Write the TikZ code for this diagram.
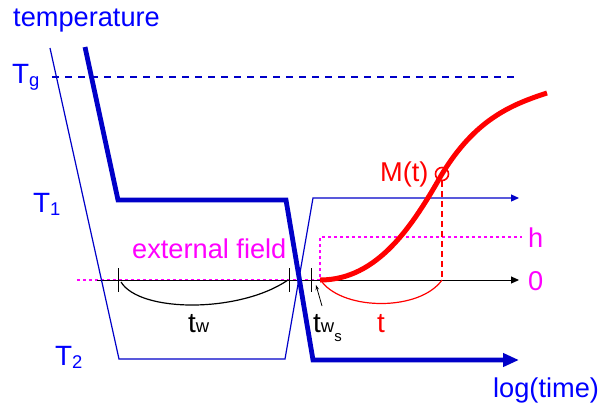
\documentclass[tikz,border=0pt]{standalone}
\usepackage{fontspec}
\setmainfont{Liberation Sans}
\usetikzlibrary{arrows.meta}
\definecolor{lineblue}{RGB}{0,0,200}
\definecolor{textblue}{RGB}{0,0,255}
\definecolor{mag}{RGB}{255,0,255}
\definecolor{myred}{RGB}{255,0,0}
\begin{document}
\begin{tikzpicture}[x=1bp,y=-1bp,
  lbl/.style={inner sep=0pt, anchor=base west, font=\fontsize{27.3}{27.3}\selectfont},
  thinblue/.style={lineblue, line width=1.2bp},
  thickblue/.style={lineblue, line width=4.8bp},
  tick/.style={black, line width=1bp},
  smallarrow/.style={-{Triangle[length=8bp,width=7bp]}},
  bigarrow/.style={-{Triangle[length=16bp,width=13bp]}}]
\useasboundingbox (0,0) rectangle (610,403);
% coordinates
\coordinate (a0) at (50,48);
\coordinate (a1) at (119,359);
\coordinate (a2) at (285,359);
\coordinate (a3) at (313,198);
\coordinate (a4) at (519,198);
\coordinate (b0) at (85,47);
\coordinate (b1) at (118,200);
\coordinate (b2) at (286,200);
\coordinate (b3) at (313,360);
\coordinate (b4) at (519,360);
\coordinate (ax0) at (97,280);
\coordinate (ax1) at (519,280);
\coordinate (m0) at (77,280);
\coordinate (m1) at (320,280);
\coordinate (m2) at (320,237);
\coordinate (m3) at (522,237);
\coordinate (g0) at (52,77);
\coordinate (g1) at (520,77);
\coordinate (mc) at (442,174);
\coordinate (mt) at (442,280);
\coordinate (r0) at (320,280);
\coordinate (r1) at (547,93);
% Tg dashed
\draw[thinblue, dash pattern=on 7bp off 6bp] (g0) -- (g1);
% magenta field
\draw[mag, line width=1.2bp, dash pattern=on 3bp off 3bp] (m0) -- (m1) -- (m2) -- (m3);
% time axis
\draw[black, line width=1bp, smallarrow] (ax0) -- (ax1);
\draw[tick] (118,268) -- (118,292);
\draw[tick] (289,268) -- (289,292);
\draw[tick] (311,268) -- (311,292);
% tw arc
\draw[black, line width=1.2bp] (121,282) .. controls (140,313) and (240,313) .. (288,280);
% temperature protocols
\draw[thinblue, smallarrow] (a0) -- (a1) -- (a2) -- (a3) -- (a4);
\draw[thickblue, bigarrow] (b0) -- (b1) -- (b2) -- (b3) -- (b4);
% red t arc and dashed
\draw[myred, line width=1.2bp] (322,282) .. controls (345,311) and (420,311) .. (mt);
\draw[myred, line width=1.2bp, dash pattern=on 6bp off 4bp] (442,181) -- (mt);
% M(t) curve
\draw[myred, line width=5bp] (r0) .. controls (378,280) and (413,225) .. (mc) .. controls (475,120) and (510,105) .. (r1);
\draw[myred, line width=1.6bp] (mc) circle[radius=6.5bp];
% small arrow to tws
\draw[black, line width=0.8bp, -{Stealth[length=5bp,width=3.5bp]}] (322,306) -- (316,285);
% labels
\node[lbl, textblue] (temp) at (13,26) {temperature};
\node[lbl, textblue, font=\fontsize{28}{28}\selectfont] (tg) at (12,83) {T\raisebox{-3.5bp}{\fontsize{18.5}{18.5}\selectfont g}};
\node[lbl, textblue, font=\fontsize{28}{28}\selectfont] (t1) at (33,212) {T\raisebox{-3.5bp}{\fontsize{18.5}{18.5}\selectfont 1}};
\node[lbl, textblue, font=\fontsize{28}{28}\selectfont] (t2) at (55,365) {T\raisebox{-3.5bp}{\fontsize{18.5}{18.5}\selectfont 2}};
\node[lbl, mag] (ef) at (132,258) {external field};
\node[lbl, font=\fontsize{28}{28}\selectfont] (tw) at (188,332) {t{\fontsize{18.5}{18.5}\selectfont w}};
\node[lbl, font=\fontsize{28}{28}\selectfont] (tws) at (313,332) {t{\fontsize{18.5}{18.5}\selectfont w\raisebox{-9bp}{\fontsize{15}{15}\selectfont s}}};
\node[lbl, myred, font=\fontsize{28}{28}\selectfont] (tt) at (377,332) {t};
\node[lbl, myred] (mlab) at (380,181) {M(t)};
\node[lbl, mag] (hlab) at (528,247) {h};
\node[lbl, mag] (zlab) at (528,290) {0};
\node[lbl, textblue] (logt) at (493,397) {log(time)};
\end{tikzpicture}
\end{document}
